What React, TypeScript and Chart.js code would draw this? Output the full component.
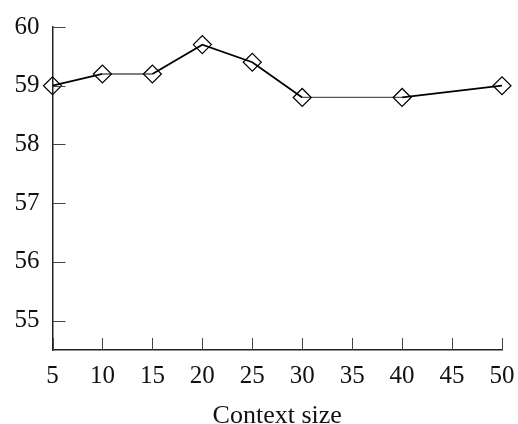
import React, { useEffect, useRef } from "react";
import { Chart, registerables } from "chart.js";

Chart.register(...registerables);

const contextSizes = [5, 10, 15, 20, 25, 30, 40, 50];
const scores = [59.0, 59.2, 59.2, 59.7, 59.4, 58.8, 58.8, 59.0];
const yTickValues = [55, 56, 57, 58, 59, 60];
const xTickValues = [5, 10, 15, 20, 25, 30, 35, 40, 45, 50];
const xTitle = "Context size";

const FONT = "'Liberation Serif', 'DejaVu Serif', serif";

const inwardTicks = {
  id: "inwardTicks",
  afterDatasetsDraw(chart: any) {
    const ctx = chart.ctx;
    const xs = chart.scales.x;
    const ys = chart.scales.y;
    const area = chart.chartArea;
    ctx.save();
    ctx.strokeStyle = "#444";
    ctx.lineWidth = 1;
    ctx.beginPath();
    for (const v of yTickValues) {
      const py = Math.round(ys.getPixelForValue(v)) + 0.5;
      ctx.moveTo(area.left, py);
      ctx.lineTo(area.left + 13, py);
    }
    for (const v of xTickValues) {
      const px = Math.round(xs.getPixelForValue(v)) + 0.5;
      ctx.moveTo(px, area.bottom);
      ctx.lineTo(px, area.bottom - 12);
    }
    ctx.stroke();
    ctx.restore();
  },
};

export default function App() {
  const ref = useRef<HTMLCanvasElement | null>(null);
  useEffect(() => {
    if (!ref.current) return;
    const chart = new Chart(ref.current, {
      type: "line",
      data: {
        datasets: [
          {
            data: contextSizes.map((x, i) => ({ x, y: scores[i] })),
            borderColor: "#000",
            borderWidth: 1.8,
            pointStyle: "rectRot",
            pointRadius: 9,
            pointBorderWidth: 1.2,
            pointBackgroundColor: "rgba(0,0,0,0)",
            pointBorderColor: "#000",
            clip: false as any,
            segment: {
              borderColor: (c: any) =>
                c.p0.parsed.y === c.p1.parsed.y ? "#555" : "#000",
              borderWidth: (c: any) =>
                c.p0.parsed.y === c.p1.parsed.y ? 1.3 : 1.8,
            },
          } as any,
        ],
      },
      options: {
        animation: false,
        responsive: false,
        layout: { padding: { top: 27, right: 16, left: 0, bottom: 0 } },
        plugins: { legend: { display: false }, tooltip: { enabled: false } },
        scales: {
          x: {
            type: "linear",
            min: 5,
            max: 50,
            afterBuildTicks: (s: any) => {
              s.ticks = xTickValues.map((v) => ({ value: v }));
            },
            afterFit: (s: any) => {
              s.height = 74;
              s.paddingLeft = 0;
              s.paddingRight = 0;
            },
            grid: { display: false, drawTicks: false },
            border: { display: true, color: "#222", width: 1.5 },
            ticks: {
              color: "#111",
              padding: 11,
              maxRotation: 0,
              autoSkip: false,
              font: { family: FONT, size: 25 },
            },
            title: {
              display: true,
              text: xTitle,
              color: "#111",
              font: { family: FONT, size: 26, lineHeight: 1 },
              padding: { top: 0, bottom: -5 },
            },
          },
          y: {
            type: "linear",
            min: 54.5,
            max: 60,
            afterBuildTicks: (s: any) => {
              s.ticks = yTickValues.map((v) => ({ value: v }));
            },
            afterFit: (s: any) => {
              s.width = 52.5;
              s.paddingTop = 0;
              s.paddingBottom = 0;
            },
            grid: { display: false, drawTicks: false },
            border: { display: true, color: "#222", width: 1.5 },
            ticks: {
              color: "#111",
              padding: 13,
              font: { family: FONT, size: 25 },
            },
          },
        },
      },
      plugins: [inwardTicks],
    });
    return () => chart.destroy();
  }, []);
  return (
    <div style={{ position: "fixed", left: 0, top: 0, width: 518, height: 424, background: "#fff" }}>
      <canvas ref={ref} width={518} height={424} style={{ width: 518, height: 424 }} />
    </div>
  );
}
